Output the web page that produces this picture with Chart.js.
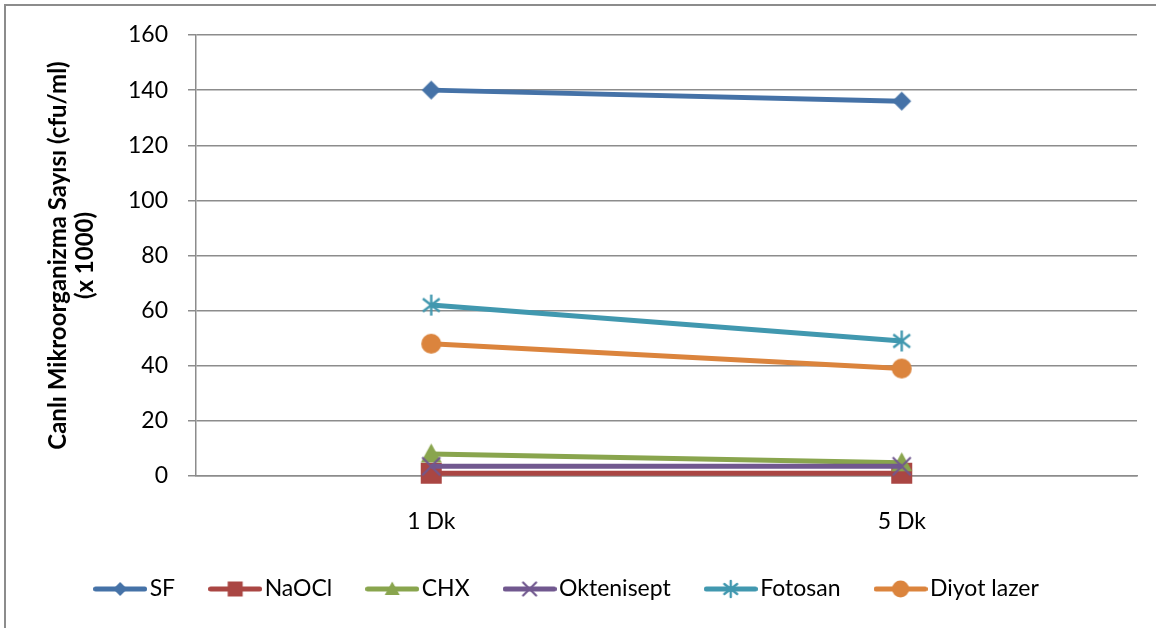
<!DOCTYPE html>
<html lang="tr">
<head>
<meta charset="UTF-8">
<title>Canlı Mikroorganizma Sayısı</title>
<script src="https://cdn.jsdelivr.net/npm/chart.js@4.4.1/dist/chart.umd.min.js"></script>
<style>
  html, body { margin: 0; padding: 0; background: #fff; overflow: hidden; }
  .frame { position: absolute; left: 4px; top: 4px; width: 1200px; height: 700px; border: 2px solid #8c8c8c; }
  .wrap { position: absolute; left: 0; top: 0; width: 1156px; height: 628px; }
</style>
</head>
<body>
<div class="frame"></div>
<div class="wrap"><canvas id="myChart" width="1156" height="628"></canvas></div>
<script>
// sampling times and counts (x 1000 cfu/ml)
const times = ['1 Dk', '5 Dk'];
const sf = [140, 136];
const naocl = [1, 1];
const chx = [8, 4.8];
const oktenisept = [3.5, 3.5];
const fotosan = [62, 49];
const diyot = [48, 39];
const yTicks = [0, 20, 40, 60, 80, 100, 120, 140, 160];

const names = ['SF', 'NaOCl', 'CHX', 'Oktenisept', 'Fotosan', 'Diyot lazer'];
const values = [sf, naocl, chx, oktenisept, fotosan, diyot];
const colors = ['#4572A7', '#AA4643', '#89A54E', '#71588F', '#4198AF', '#DB843D'];
const marks = ['diamond', 'square', 'triangle', 'cross', 'star', 'circle'];
const plotSizes = [9.5, 10.5, 10.5, 9, 10.5, 10];
const legendSizes = [7, 7.5, 7.5, 6.5, 8, 8.5];

Chart.defaults.font.family = 'Lato, "Open Sans", sans-serif';
Chart.defaults.color = '#000';

function drawMark(ctx, kind, x, y, r, color) {
  ctx.save();
  ctx.fillStyle = color;
  ctx.strokeStyle = color;
  ctx.beginPath();
  if (kind === 'diamond') {
    ctx.moveTo(x, y - r); ctx.lineTo(x + r, y); ctx.lineTo(x, y + r); ctx.lineTo(x - r, y);
    ctx.closePath(); ctx.fill();
  } else if (kind === 'square') {
    ctx.rect(x - r, y - r, 2 * r, 2 * r); ctx.fill();
  } else if (kind === 'triangle') {
    ctx.moveTo(x, y - r); ctx.lineTo(x + r, y + r * 0.8); ctx.lineTo(x - r, y + r * 0.8);
    ctx.closePath(); ctx.fill();
  } else if (kind === 'cross') {
    ctx.lineWidth = 2.2;
    ctx.moveTo(x - r, y - r); ctx.lineTo(x + r, y + r);
    ctx.moveTo(x + r, y - r); ctx.lineTo(x - r, y + r);
    ctx.stroke();
  } else if (kind === 'star') {
    ctx.lineWidth = 2.4;
    const dx = r * 0.8, dy = r * 0.62;
    ctx.moveTo(x, y - r); ctx.lineTo(x, y + r);
    ctx.moveTo(x - dx, y - dy); ctx.lineTo(x + dx, y + dy);
    ctx.moveTo(x + dx, y - dy); ctx.lineTo(x - dx, y + dy);
    ctx.stroke();
  } else {
    ctx.arc(x, y, r, 0, Math.PI * 2); ctx.fill();
  }
  ctx.restore();
}

// marker image used as pointStyle on the lines
function markCanvas(kind, r, color) {
  const c = document.createElement('canvas');
  const s = Math.ceil(2 * r + 4);
  c.width = s; c.height = s;
  drawMark(c.getContext('2d'), kind, s / 2, s / 2, r, color);
  return c;
}

// legend symbol: short line with the marker in the middle
function legendCanvas(kind, r, color) {
  const c = document.createElement('canvas');
  c.width = 54; c.height = 22;
  const ctx = c.getContext('2d');
  ctx.strokeStyle = color;
  ctx.lineWidth = 5;
  ctx.lineCap = 'round';
  ctx.beginPath(); ctx.moveTo(2.5, 11); ctx.lineTo(51.5, 11); ctx.stroke();
  drawMark(ctx, kind, 27, 11, r, color);
  return c;
}

const legendImgs = names.map((n, i) => legendCanvas(marks[i], legendSizes[i], colors[i]));

const datasets = names.map((n, i) => ({
  label: n,
  data: values[i],
  borderColor: colors[i],
  backgroundColor: colors[i],
  borderWidth: 5,
  pointStyle: markCanvas(marks[i], plotSizes[i], colors[i]),
  pointRadius: 10,
  pointHoverRadius: 10,
  tension: 0,
  clip: false,
  order: names.length - i
}));

const gridColor = '#8c8c8c';

new Chart(document.getElementById('myChart'), {
  type: 'line',
  data: { labels: times, datasets: datasets },
  options: {
    responsive: false,
    animation: false,
    events: [],
    layout: { padding: { left: 4, right: 19, top: 35, bottom: 17.5 } },
    plugins: {
      tooltip: { enabled: false },
      legend: {
        position: 'bottom',
        labels: {
          usePointStyle: true,
          pointStyleWidth: 36,
          padding: 42,
          font: { size: 23 },
          color: '#000',
          generateLabels: () => names.map((n, i) => ({
            text: n,
            pointStyle: legendImgs[i],
            fillStyle: colors[i],
            strokeStyle: colors[i],
            lineWidth: 0,
            hidden: false,
            datasetIndex: i,
            fontColor: '#000'
          }))
        }
      }
    },
    scales: {
      x: {
        offset: true,
        grid: { display: false, drawTicks: false },
        border: { display: true, color: gridColor, width: 1.5 },
        ticks: { font: { size: 23 }, padding: 32, color: '#000' },
        afterFit: (scale) => { scale.height = 59.5; }
      },
      y: {
        min: yTicks[0],
        max: yTicks[yTicks.length - 1],
        ticks: { stepSize: yTicks[1] - yTicks[0], font: { size: 23 }, padding: 20, color: '#000' },
        grid: { color: gridColor, lineWidth: 1.5, tickLength: 8, drawTicks: true },
        border: { display: true, color: gridColor, width: 1.5 },
        title: {
          display: true,
          text: ['Canlı Mikroorganizma Sayısı (cfu/ml)', '(x 1000)'],
          font: { size: 24, weight: 'bold', lineHeight: 1.15 },
          padding: { top: 40, bottom: 0 },
          color: '#000'
        },
        afterFit: (scale) => { scale.width = 192; }
      }
    }
  }
});
</script>
</body>
</html>
